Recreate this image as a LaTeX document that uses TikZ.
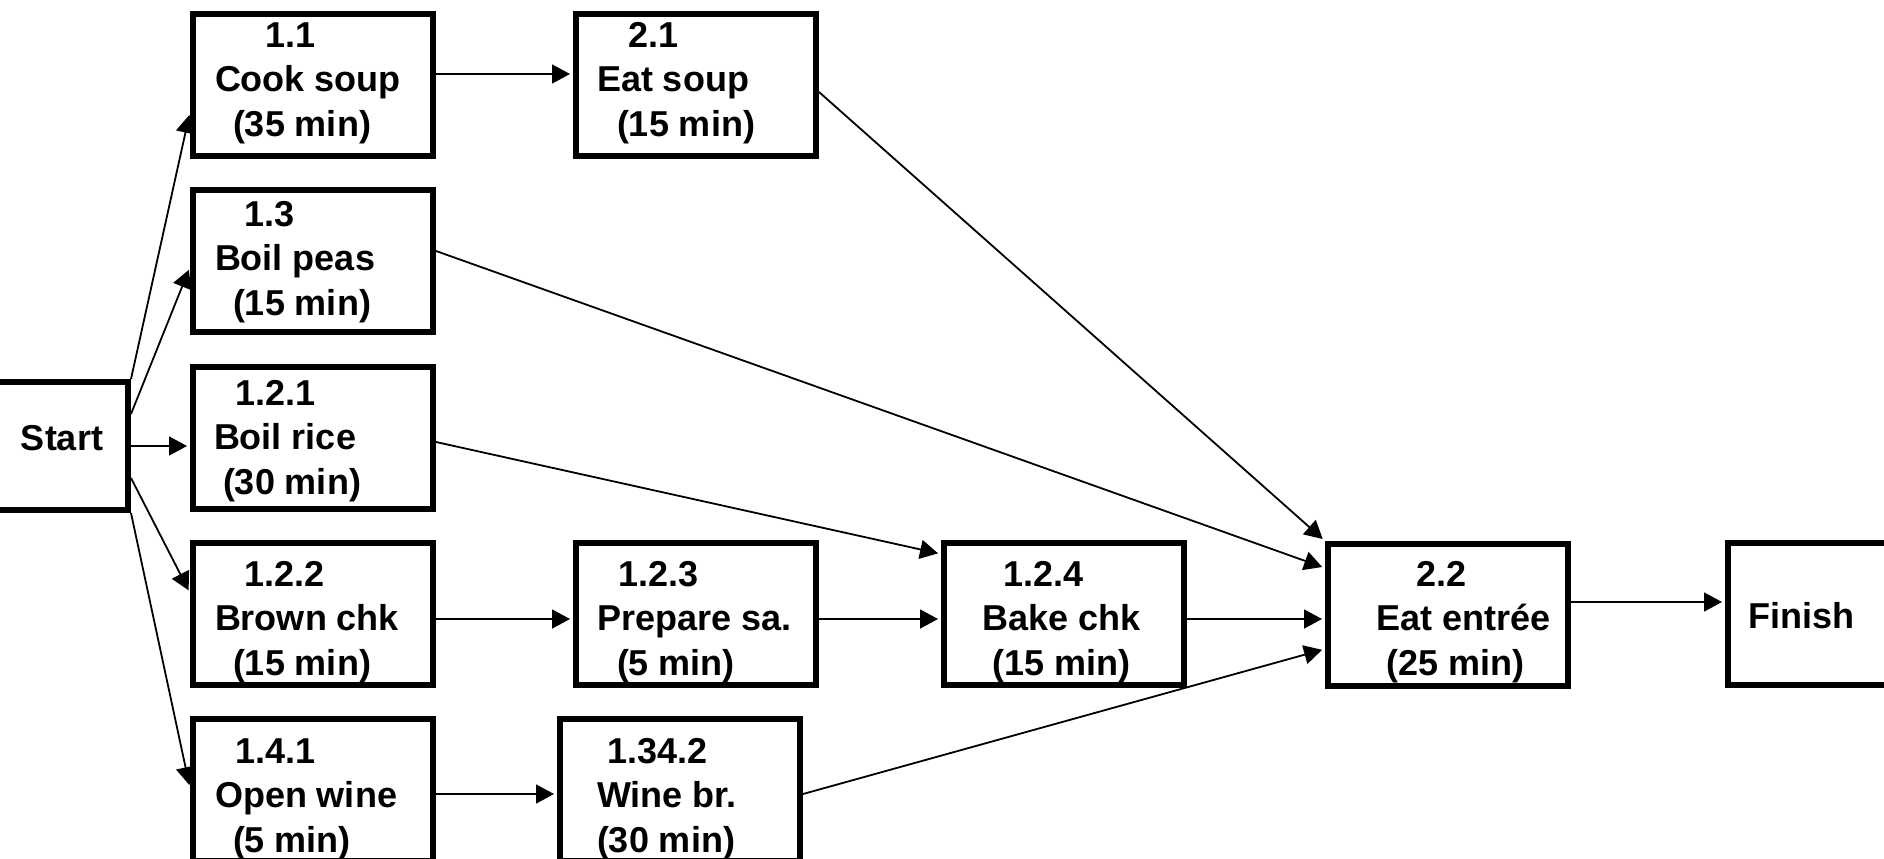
\documentclass[tikz,border=0pt]{standalone}
\usepackage{fontspec}
\setmainfont{Liberation Sans}
\usetikzlibrary{arrows.meta}
% #1 first baseline, then indent/text pairs for the three lines
\newcommand{\btext}[7]{\parbox[c][142pt][t]{240pt}{\raggedright\rule{0pt}{#1pt}\hspace*{#2pt}#3\\\hspace*{#4pt}#5\\[1pt]\hspace*{#6pt}#7}}
\begin{document}
\begin{tikzpicture}[x=1pt,y=-1pt,
  box/.style={draw,line width=6pt,anchor=north west,minimum width=240pt,minimum height=142pt,
    inner sep=0pt,font=\fontsize{36}{44}\selectfont\bfseries},
  conn/.style={line width=1.8pt,shorten >=3pt,-{Triangle[length=18pt,width=19pt]}}]
\useasboundingbox[fill=white] (0,0) rectangle (1884,859);
% nodes
\node[box,minimum width=135pt,minimum height=128pt] (start) at (-10,379)
  {\parbox[c][128pt][t]{135pt}{\rule{0pt}{68pt}\hspace*{28pt}Start}};
\node[box] (cook) at (190,11) {\btext{34}{72}{1.1}{22}{Cook soup}{40}{(35 min)}};
\node[box] (eatsoup) at (573,11) {\btext{34}{52}{2.1}{21}{Eat soup}{41}{(15 min)}};
\node[box] (peas) at (190,187) {\btext{36}{51}{1.3}{22}{Boil peas}{40}{(15 min)}};
\node[box] (rice) at (190,364) {\btext{38}{42}{1.2.1}{21}{Boil rice}{30}{(30 min)}};
\node[box] (brown) at (190,540) {\btext{43}{51}{1.2.2}{22}{Brown chk}{40}{(15 min)}};
\node[box] (prep) at (573,540) {\btext{43}{42}{1.2.3}{21}{Prepare sa.}{41}{(5 min)}};
\node[box] (bake) at (941,540) {\btext{43}{59}{1.2.4}{38}{Bake chk}{48}{(15 min)}};
\node[box] (entree) at (1325,541) {\btext{42}{88}{2.2}{48}{Eat entrée}{58}{(25 min)}};
\node[box,minimum width=180pt] (finish) at (1725,540)
  {\parbox[c][142pt][t]{180pt}{\rule{0pt}{85pt}\hspace*{20pt}Finish}};
\node[box] (open) at (190,716) {\btext{44}{42}{1.4.1}{22}{Open wine}{40}{(5 min)}};
\node[box] (winebr) at (557,716) {\btext{44}{47}{1.34.2}{37}{Wine br.}{37}{(30 min)}};
% connectors
\draw[conn] (start.north east) -- ([yshift=-101pt]cook.north west);
\draw[conn] ([yshift=-35pt]start.north east) -- ([yshift=-80pt]peas.north west);
\draw[conn] (start.east) -- (start.east -| rice.west);
\draw[conn] ([yshift=-99pt]start.north east) -- ([yshift=-53pt]brown.north west);
\draw[conn] (start.south east) -- ([yshift=-72pt]open.north west);
\draw[conn] ([yshift=-63pt]cook.north east) -- ([yshift=-63pt]eatsoup.north west);
\draw[conn] ([yshift=-81pt]eatsoup.north east) -- (entree.north west);
\draw[conn] ([yshift=-64pt]peas.north east) -- ([yshift=-27pt]entree.north west);
\draw[conn] ([yshift=-78pt]rice.north east) -- ([yshift=-14pt]bake.north west);
\draw[conn] ([yshift=-79pt]brown.north east) -- ([yshift=-79pt]prep.north west);
\draw[conn] ([yshift=-79pt]prep.north east) -- ([yshift=-79pt]bake.north west);
\draw[conn] ([yshift=-79pt]bake.north east) -- ([yshift=-79pt]bake.north east -| entree.west);
\draw[conn] ([yshift=-78pt]open.north east) -- ([yshift=-78pt]winebr.north west);
\draw[conn] ([yshift=-78pt]winebr.north east) -- ([yshift=-108pt]entree.north west);
\draw[conn] ([yshift=-61pt]entree.north east) -- ([yshift=-61pt]entree.north east -| finish.west);
\end{tikzpicture}
\end{document}
